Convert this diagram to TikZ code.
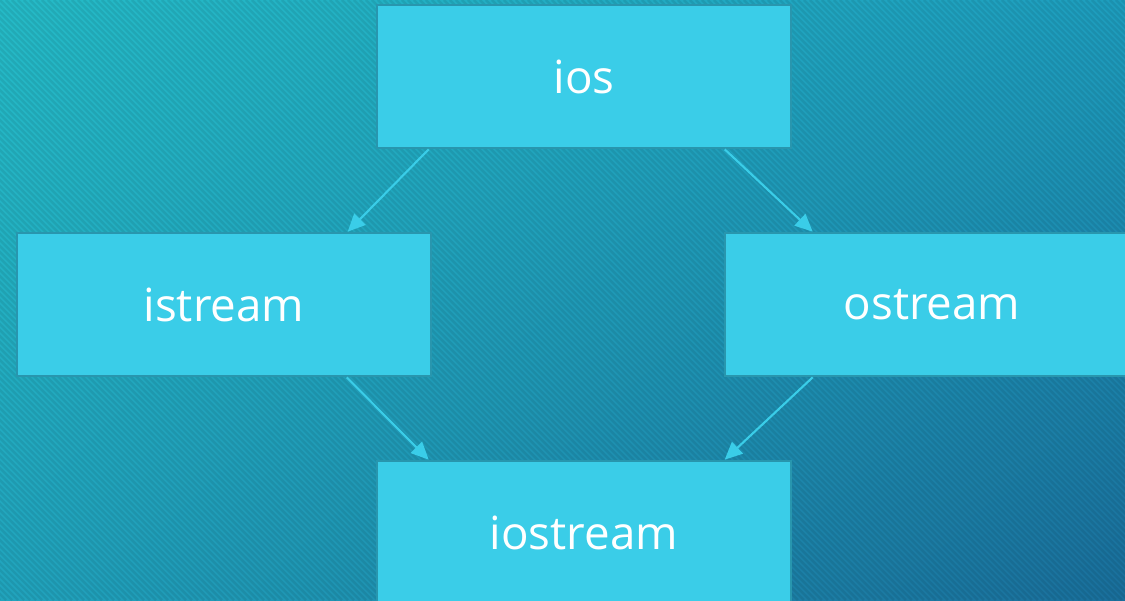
\documentclass[tikz,border=0pt]{standalone}
\usepackage{fontspec}
\setmainfont{Open Sans}
\usetikzlibrary{arrows.meta,calc,positioning,shadings}
\definecolor{boxFill}{HTML}{3ACDE8}
\definecolor{boxLine}{HTML}{2896AE}
\definecolor{bgTL}{HTML}{25BBC7}
\definecolor{bgTR}{HTML}{1E9EBE}
\definecolor{bgBL}{HTML}{21A4BD}
\definecolor{bgBR}{HTML}{1A6F9C}
\tikzset{
	classBox/.style={draw=boxLine,line width=1.5pt,fill=boxFill,minimum width=8.28cm,minimum height=2.86cm,anchor=center,text=white,font=\fontsize{26}{31}\selectfont},
	inherit/.style={draw=boxFill,line width=1.2pt,-{Triangle[length=10pt,width=9pt]}},
}
\begin{document}
\begin{tikzpicture}
						\clip (0,0) rectangle (22.5,12);
						\shade[upper left=bgTL,upper right=bgTR,lower left=bgBL,lower right=bgBR] (0,0) rectangle (22.5,12);
						% faint diagonal stripes
						\foreach \x in {-12,-11.88,...,22.5}
							\draw[black,opacity=.08,line width=1.4pt] (\x,12) -- ++(12,-12);
						
						\node (ios) at (11.68,10.47) [classBox] {ios};
						\node (istream) at (4.48,5.91) [classBox] {istream};
						\node (ostream) at (18.64,5.91) [classBox] {ostream};
						\node (iostream) at (11.68,1.35) [classBox] {iostream};
						
						\draw[inherit] ([xshift=1.06cm]ios.south west) -- ([xshift=6.64cm]istream.north west);
						\draw[inherit] ([xshift=6.98cm]ios.south west) -- ([xshift=1.78cm]ostream.north west);
						\draw[inherit] ([xshift=6.62cm]istream.south west) -- ([xshift=1.06cm]iostream.north west);
						\draw[inherit] ([xshift=1.78cm]ostream.south west) -- ([xshift=6.98cm]iostream.north west);
					\end{tikzpicture}
\end{document}
